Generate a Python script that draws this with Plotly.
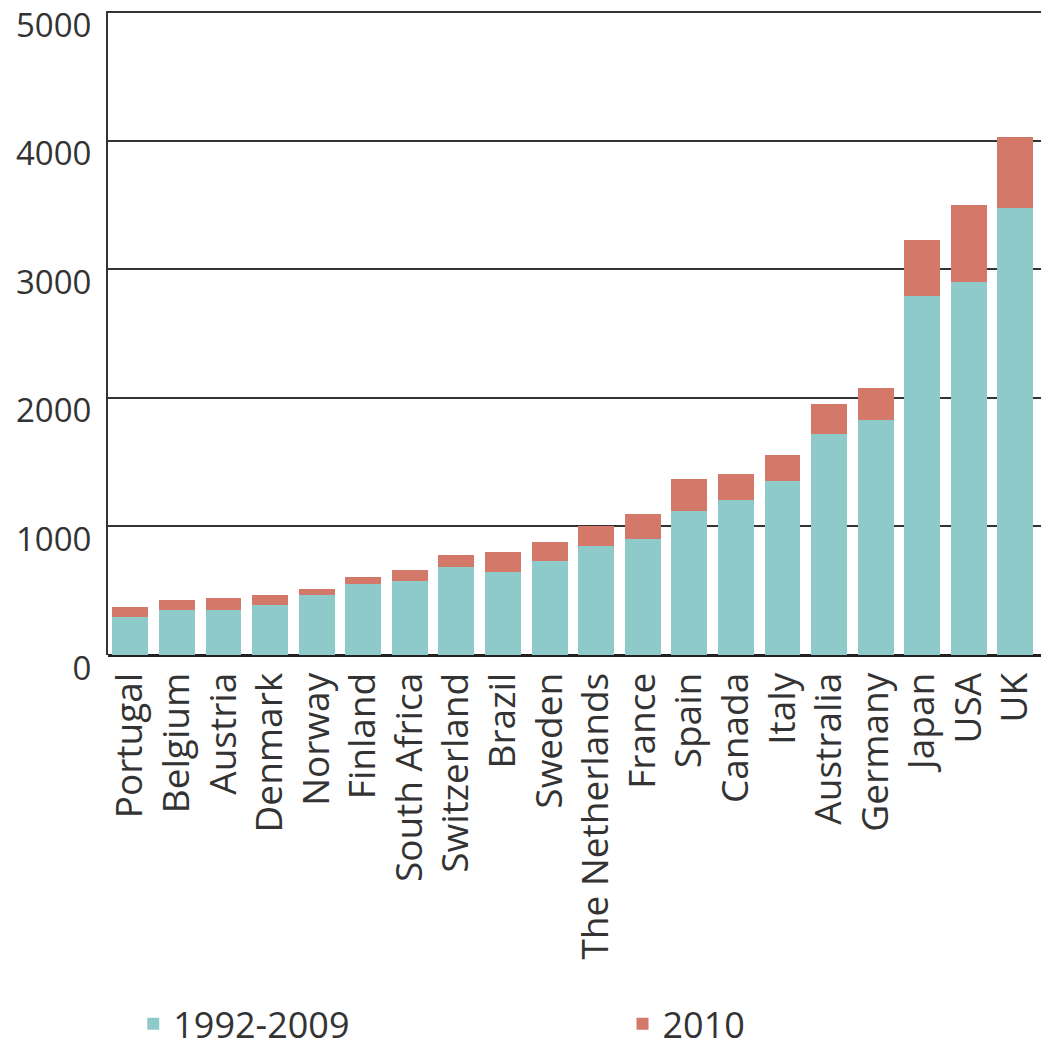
import plotly.graph_objects as go

countries = ["Portugal", "Belgium", "Austria", "Denmark", "Norway", "Finland",
             "South Africa", "Switzerland", "Brazil", "Sweden", "The Netherlands",
             "France", "Spain", "Canada", "Italy", "Australia", "Germany",
             "Japan", "USA", "UK"]
base_1992_2009 = [298, 350, 352, 389, 464, 552, 573, 687, 645, 730, 845, 899,
                  1120, 1208, 1356, 1719, 1829, 2788, 2897, 3476]
add_2010 = [72, 78, 91, 75, 52, 57, 88, 91, 158, 146, 155, 197,
            251, 196, 196, 233, 251, 439, 603, 555]
y_ticks = [0, 1000, 2000, 3000, 4000, 5000]

teal = "#8fcaca"
red = "#d47969"
font = "Open Sans"

fig = go.Figure()
fig.add_trace(go.Bar(x=countries, y=base_1992_2009, name="1992-2009",
                     marker=dict(color=teal, line=dict(width=0)), legend="legend"))
fig.add_trace(go.Bar(x=countries, y=add_2010, name="2010",
                     marker=dict(color=red, line=dict(width=0)), legend="legend2"))

legend_common = dict(orientation="h", y=0.025, xanchor="left", yanchor="middle",
                     xref="container", yref="container",
                     font=dict(size=36, color="#333333", family=font),
                     itemclick=False, itemdoubleclick=False)

fig.update_layout(
    barmode="stack",
    bargap=0.23,
    width=1041, height=1050,
    margin=dict(l=108, r=0, t=11, b=395, pad=0),
    paper_bgcolor="white", plot_bgcolor="white",
    font=dict(family=font, color="#333333", size=32),
    showlegend=True,
    legend=dict(x=0.128, **legend_common),
    legend2=dict(x=0.598, **legend_common),
    xaxis=dict(range=[-0.48, 19.55],
               tickangle=-90, showgrid=False, showline=False, zeroline=False,
               ticks="outside", ticklen=2, tickcolor="rgba(0,0,0,0)",
               tickfont=dict(size=37, family=font, color="#333333")),
    yaxis=dict(range=[0, 5008], tickvals=y_ticks, showgrid=True,
               gridcolor="#333333", gridwidth=2,
               zeroline=True, zerolinecolor="#222222", zerolinewidth=3,
               showline=True, linecolor="#333333", linewidth=2,
               ticks="", ticklabelstandoff=8, ticklabelshift=13,
               ticklabeloverflow="allow",
               tickfont=dict(size=33, family=font, color="#333333")),
)

fig.write_html("out.html")
